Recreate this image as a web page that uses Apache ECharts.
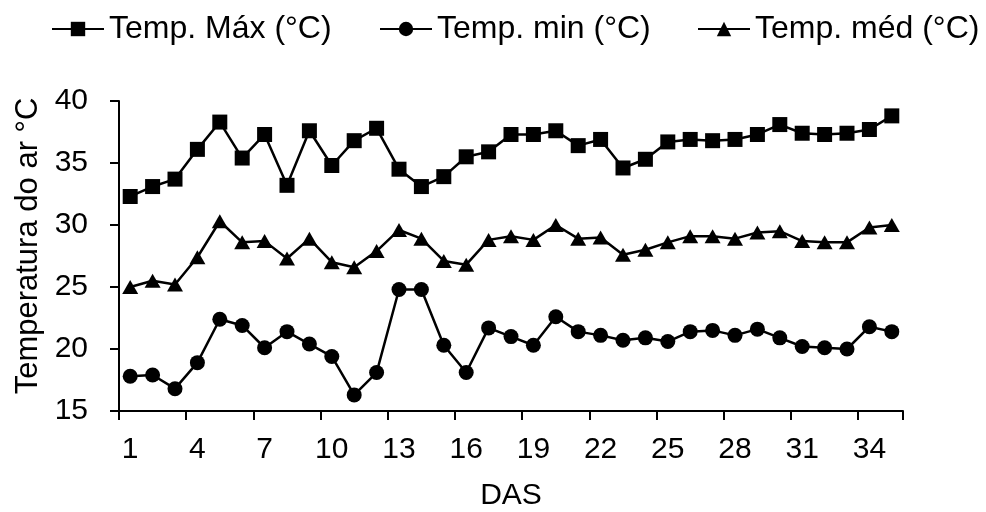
<!DOCTYPE html>
<html>
<head>
<meta charset="utf-8">
<script src="https://cdn.jsdelivr.net/npm/echarts@6/dist/echarts.min.js"></script>
<style>
  html, body { margin: 0; padding: 0; background: #fff; }
  #chart { width: 986px; height: 512px; }
</style>
</head>
<body>
<div id="chart"></div>
<script>
// Dias após a semeadura (DAS)
const days = ['1','2','3','4','5','6','7','8','9','10','11','12','13','14','15','16','17','18',
              '19','20','21','22','23','24','25','26','27','28','29','30','31','32','33','34','35'];

// Temperaturas do ar (°C)
const tMax = [32.3, 33.1, 33.7, 36.1, 38.3, 35.4, 37.3, 33.2, 37.6, 34.8, 36.8, 37.8,
              34.5, 33.1, 33.9, 35.5, 35.9, 37.3, 37.3, 37.6, 36.4, 36.9, 34.6, 35.3,
              36.7, 36.9, 36.8, 36.9, 37.3, 38.1, 37.4, 37.3, 37.4, 37.7, 38.8];
const tMin = [17.8, 17.9, 16.8, 18.9, 22.4, 21.9, 20.1, 21.4, 20.4, 19.4, 16.3, 18.1,
              24.8, 24.8, 20.3, 18.1, 21.7, 21.0, 20.3, 22.6, 21.4, 21.1, 20.7, 20.9,
              20.6, 21.4, 21.5, 21.1, 21.6, 20.9, 20.2, 20.1, 20.0, 21.8, 21.4];
const tMed = [25.0, 25.5, 25.2, 27.4, 30.3, 28.6, 28.7, 27.3, 28.9, 27.0, 26.6, 27.9,
              29.6, 28.9, 27.1, 26.8, 28.8, 29.1, 28.8, 30.0, 28.9, 29.0, 27.6, 28.0,
              28.6, 29.1, 29.1, 28.9, 29.4, 29.5, 28.7, 28.6, 28.6, 29.8, 30.0];

const seriesNames = ['Temp. Máx (°C)', 'Temp. min (°C)', 'Temp. méd (°C)'];
const yTicks = { min: 15, max: 40, step: 5 };

const FONT = '"Liberation Sans", Arial, sans-serif';
const INK = '#000';

function legendFor(name, left) {
  return {
    data: [name],
    left: left,
    top: 8,
    itemWidth: 52,
    itemHeight: 18,
    itemGap: 0,
    textStyle: { fontFamily: FONT, fontSize: 32, color: INK }
  };
}

function lineSeries(name, data, symbol, size) {
  return {
    name: name,
    type: 'line',
    data: data,
    symbol: symbol,
    symbolSize: size,
    showAllSymbol: true,
    lineStyle: { color: INK, width: 2.5 },
    itemStyle: { color: INK, borderWidth: 0 },
    emphasis: { disabled: true }
  };
}

const chart = echarts.init(document.getElementById('chart'), null, { renderer: 'canvas' });
chart.setOption({
  animation: false,
  backgroundColor: '#fff',
  legend: [
    legendFor(seriesNames[0], 46),
    legendFor(seriesNames[1], 374),
    legendFor(seriesNames[2], 692)
  ],
  grid: { left: 119, right: 83, top: 101, bottom: 101, outerBoundsMode: 'none', containLabel: false },
  xAxis: {
    type: 'category',
    data: days,
    boundaryGap: true,
    name: 'DAS',
    nameLocation: 'middle',
    nameGap: 70,
    nameTextStyle: { fontFamily: FONT, fontSize: 30, color: INK },
    axisLine: { lineStyle: { color: INK, width: 2 } },
    axisTick: { show: true, interval: 2, length: 9, inside: false, lineStyle: { color: INK, width: 2 } },
    axisLabel: { interval: 2, margin: 24, fontFamily: FONT, fontSize: 30, color: INK },
    splitLine: { show: false }
  },
  yAxis: {
    type: 'value',
    min: yTicks.min,
    max: yTicks.max,
    interval: yTicks.step,
    name: 'Temperatura do ar °C',
    nameLocation: 'middle',
    nameGap: 72,
    nameTextStyle: { fontFamily: FONT, fontSize: 31, color: INK, padding: [0, 0, 0, 20] },
    axisLine: { show: true, lineStyle: { color: INK, width: 2 } },
    axisTick: { show: true, length: 9, inside: false, lineStyle: { color: INK, width: 2 } },
    axisLabel: { margin: 31, fontFamily: FONT, fontSize: 30, color: INK },
    splitLine: { show: false }
  },
  series: [
    lineSeries(seriesNames[0], tMax, 'rect', 15),
    lineSeries(seriesNames[1], tMin, 'circle', 15),
    lineSeries(seriesNames[2], tMed, 'triangle', [16, 14])
  ]
});
</script>
</body>
</html>
